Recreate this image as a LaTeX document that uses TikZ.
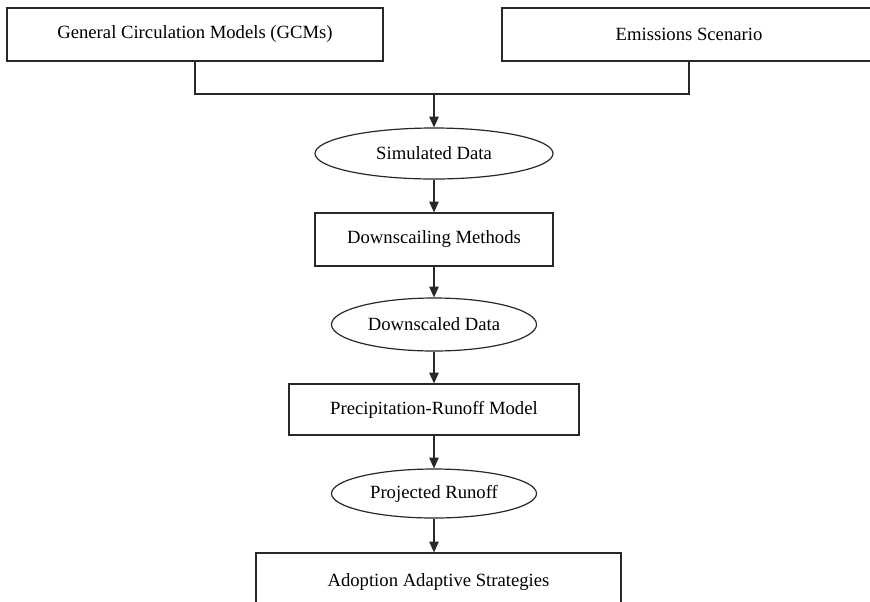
\documentclass[tikz,border=0pt]{standalone}
\usepackage{fontspec}
\setmainfont{Liberation Serif}
\usepackage{tikz}
\usetikzlibrary{positioning,arrows.meta,calc,shapes.geometric}
\definecolor{linegrey}{RGB}{40,40,40}
\tikzset{
  box/.style  ={draw=linegrey, fill=white, line width=0.9pt, rectangle, inner sep=0pt,
                font=\fontsize{14}{16}\selectfont, align=center},
  oval/.style ={draw=linegrey, fill=white, line width=0.9pt, ellipse, inner sep=0pt,
                font=\fontsize{14}{16}\selectfont, align=center},
  ln/.style   ={draw=linegrey, line width=0.9pt},
  ar/.style   ={-{Triangle[length=8pt,width=7pt]}, draw=linegrey, line width=0.9pt},
}
\begin{document}
\begin{tikzpicture}[x=0.75pt,y=-0.75pt]
\useasboundingbox (0,0) rectangle (870,601);

% inputs
\node[box,minimum width=282pt,minimum height=39.75pt] (gcm) at (195,34.5) {General Circulation Models (GCMs)};
\node[box,minimum width=280.5pt,minimum height=39.75pt] (emis) at (689,34.5) {Emissions Scenario};

% chain
\node[oval,minimum width=178.5pt,minimum height=38.25pt] (sim) at (434,153.5) {Simulated Data};
\node[box,minimum width=178.5pt,minimum height=39.75pt] (dsm) at (434,239.5) {Downscailing Methods};
\node[oval,minimum width=153.75pt,minimum height=39.75pt] (dsd) at (434,324.5) {Downscaled Data};
\node[box,minimum width=217.5pt,minimum height=38.25pt] (prm) at (434,409.5) {Precipitation-Runoff Model};
\node[oval,minimum width=153.75pt,minimum height=36.75pt] (proj) at (434,493.5) {Projected Runoff};
\node[box,minimum width=273.75pt,minimum height=43.5pt] (adapt) at (438.5,582) {Adoption Adaptive Strategies};

% merge of the two inputs
\coordinate (jl) at (195,94);
\coordinate (jr) at (689,94);
\coordinate (jm) at (434,94);
\draw[ln] (gcm.south) -- (jl) -- (jr) -- (emis.south);
\draw[ar] (jm) -- (sim.north);

% arrows down the chain
\draw[ar] (sim.south) -- (dsm.north);
\draw[ar] (dsm.south) -- (dsd.north);
\draw[ar] (dsd.south) -- (prm.north);
\draw[ar] (prm.south) -- (proj.north);
\draw[ar] (proj.south) -- (proj.south |- adapt.north);
\end{tikzpicture}
\end{document}
